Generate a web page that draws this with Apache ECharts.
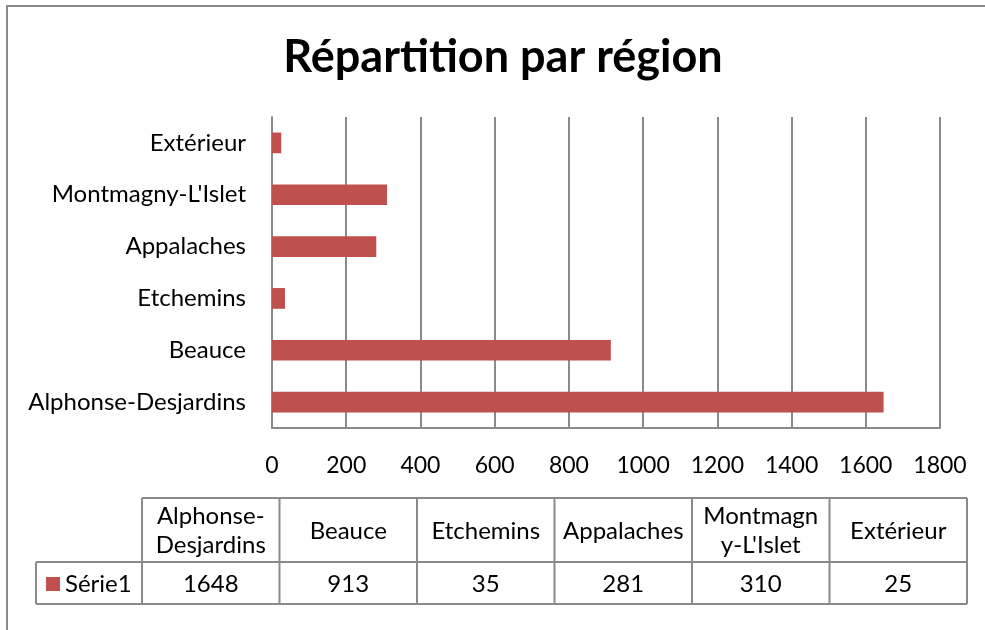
<!DOCTYPE html>
<html>
<head>
<meta charset="utf-8">
<title>Répartition par région</title>
<script src="https://cdn.jsdelivr.net/npm/echarts@6/dist/echarts.min.js"></script>
<style>
    html, body { margin: 0; padding: 0; background: #fff; }
    #chart { width: 985px; height: 630px; }
</style>
</head>
<body>
<div id="chart"></div>
<script>
// données
var categories = ['Alphonse-Desjardins', 'Beauce', 'Etchemins', 'Appalaches', "Montmagny-L'Islet", 'Extérieur'];
var values = [1648, 913, 35, 281, 310, 25];
var tableHeaders = ['Alphonse-\nDesjardins', 'Beauce', 'Etchemins', 'Appalaches', "Montmagn\ny-L'Islet", 'Extérieur'];
var seriesName = 'Série1';
var axisMin = 0, axisMax = 1800, axisStep = 200;

var font = 'Lato, "Open Sans", sans-serif';
var barColor = '#C0504D';
var lineColor = '#8a8a8a';
var textSize = 24;

var chart = echarts.init(document.getElementById('chart'));

// tableau de données sous le graphique
var tableLeft = 142, colW = 137.5, rowTop = 498, rowMid = 562, rowBottom = 604, keyLeft = 36;
var tableRight = tableLeft + colW * tableHeaders.length;
var table = [];
function hline(y, x1, x2) {
    table.push({ type: 'line', shape: { x1: x1, y1: y, x2: x2, y2: y }, style: { stroke: lineColor, lineWidth: 2 } });
}
function vline(x, y1, y2) {
    table.push({ type: 'line', shape: { x1: x, y1: y1, x2: x, y2: y2 }, style: { stroke: lineColor, lineWidth: 2 } });
}
hline(rowTop, tableLeft, tableRight);
hline(rowMid, keyLeft, tableRight);
hline(rowBottom, keyLeft, tableRight);
vline(keyLeft, rowMid, rowBottom);
for (var i = 0; i <= tableHeaders.length; i++) {
    vline(tableLeft + colW * i, rowTop, rowBottom);
}
for (var j = 0; j < tableHeaders.length; j++) {
    var cx = tableLeft + colW * j + colW / 2;
    table.push({
        type: 'text', x: cx, y: (rowTop + rowMid) / 2 + 1,
        style: { text: tableHeaders[j], fill: '#000', fontSize: textSize, fontFamily: font, lineHeight: 29, align: 'center', verticalAlign: 'middle' }
    });
    table.push({
        type: 'text', x: cx, y: (rowMid + rowBottom) / 2 + 1,
        style: { text: String(values[j]), fill: '#000', fontSize: textSize, fontFamily: font, align: 'center', verticalAlign: 'middle' }
    });
}
// légende dans le tableau
table.push({ type: 'rect', shape: { x: 46, y: 577, width: 14, height: 14 }, style: { fill: barColor } });
table.push({
    type: 'text', x: 65, y: (rowMid + rowBottom) / 2 + 1,
    style: { text: seriesName, fill: '#000', fontSize: textSize, fontFamily: font, align: 'left', verticalAlign: 'middle' }
});
// cadre du graphique (seuls le haut et la gauche sont visibles)
hline(6, 6, 990);
vline(7, 5, 640);

var option = {
    backgroundColor: '#fff',
    animation: false,
    title: {
        text: 'Répartition par région',
        left: 498,
        top: 30,
        textAlign: 'center',
        textStyle: { fontFamily: font, fontSize: 45, fontWeight: 'bold', color: '#000' }
    },
    grid: {
        left: 272,
        right: 45,
        top: 117,
        bottom: 202,
        containLabel: false,
        outerBoundsMode: 'none'
    },
    xAxis: {
        type: 'value',
        min: axisMin,
        max: axisMax,
        interval: axisStep,
        axisLine: { show: true, lineStyle: { color: lineColor, width: 2 } },
        axisTick: { show: false },
        axisLabel: { color: '#000', fontSize: 23, fontFamily: font, margin: 26, formatter: function (v) { return String(v); } },
        splitLine: { show: true, lineStyle: { color: lineColor, width: 2 } }
    },
    yAxis: {
        type: 'category',
        data: categories,
        axisLine: { show: true, lineStyle: { color: lineColor, width: 2 } },
        axisTick: { show: false },
        axisLabel: { color: '#000', fontSize: textSize, fontFamily: font, margin: 26 },
        splitLine: { show: false }
    },
    series: [{
        name: seriesName,
        type: 'bar',
        data: values,
        barWidth: '40%',
        itemStyle: { color: barColor },
        silent: true
    }],
    graphic: table
};

chart.setOption(option);
</script>
</body>
</html>
